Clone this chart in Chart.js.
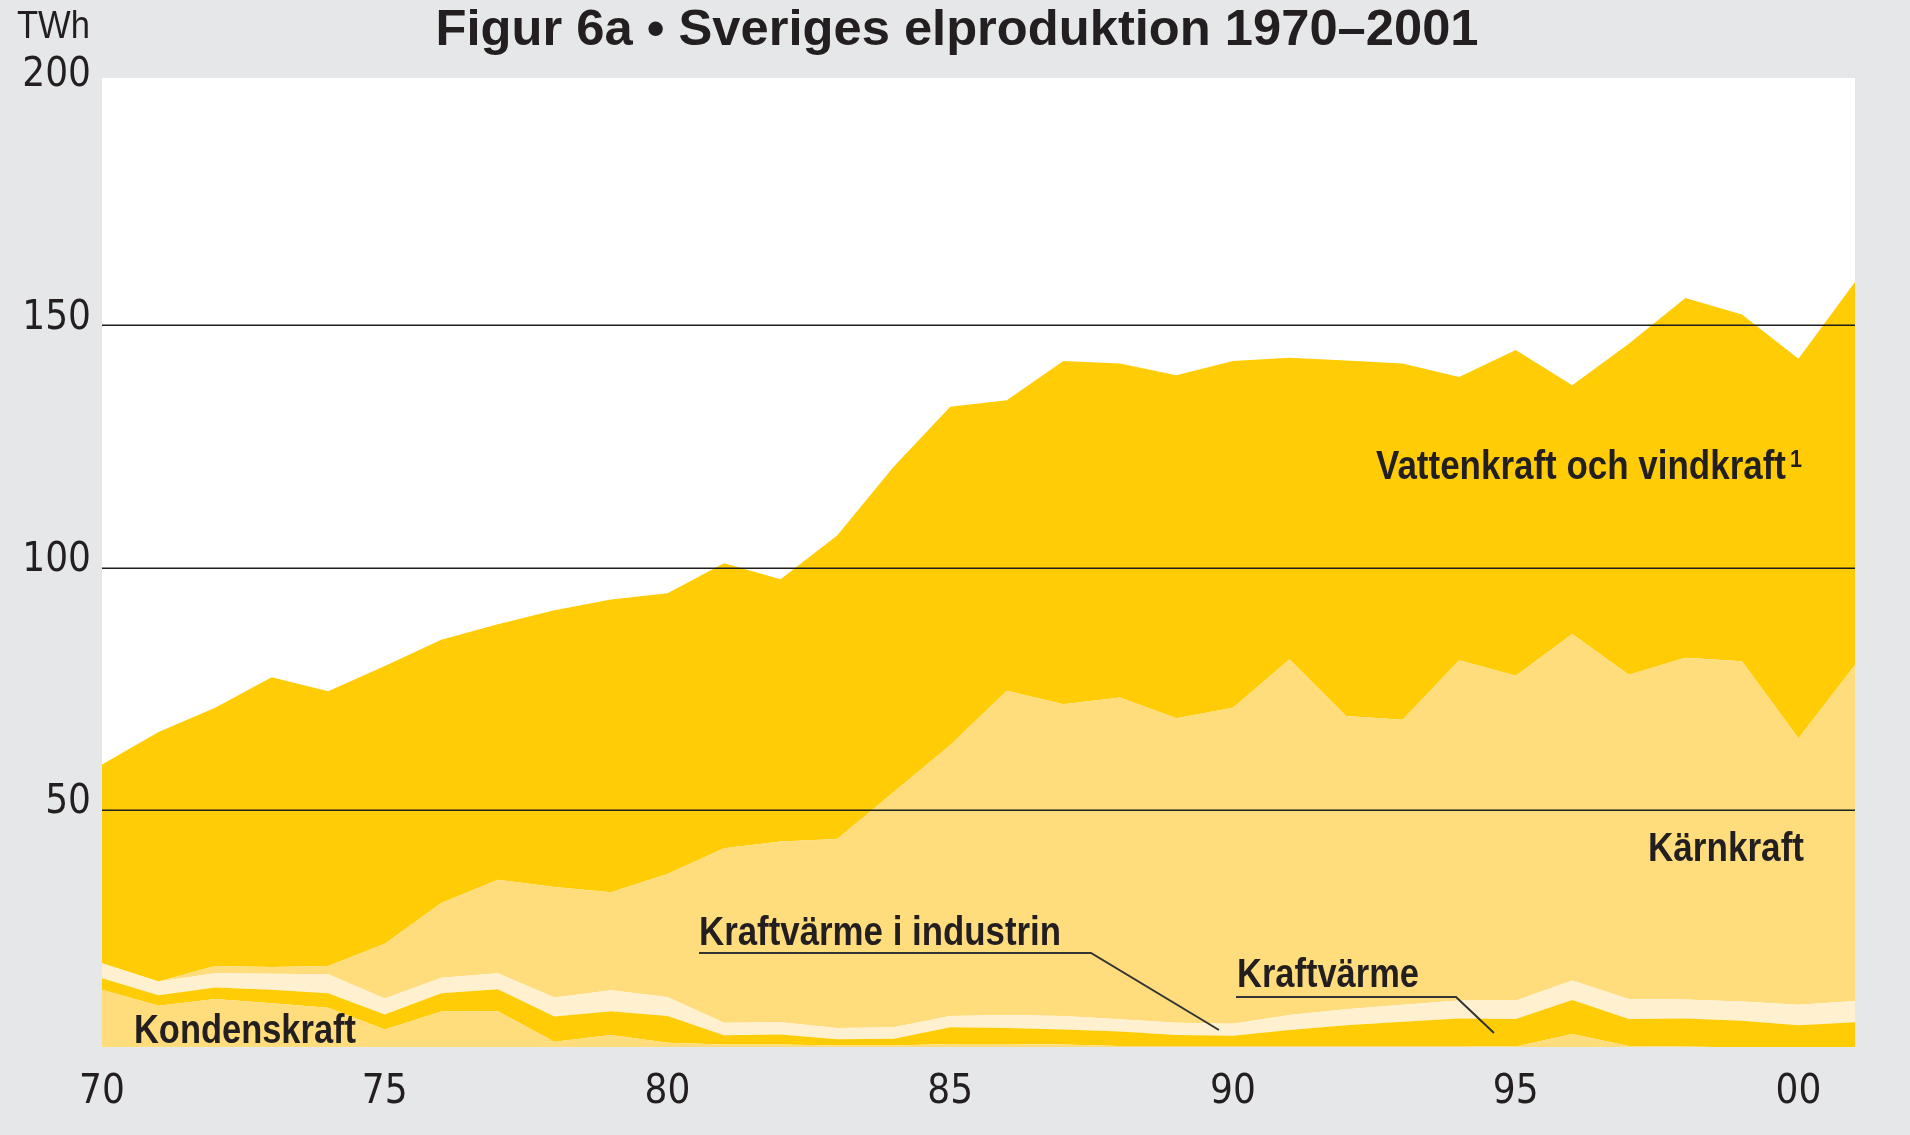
<!DOCTYPE html>
<html>
<head>
<meta charset="utf-8">
<script src="https://cdn.jsdelivr.net/npm/chart.js@4.4.1/dist/chart.umd.min.js"></script>
<style>
html, body { margin: 0; padding: 0; background: #e6e7e9; }
#chart { display: block; }
</style>
</head>
<body>
<canvas id="chart" width="1910" height="1135"></canvas>
<script>
// år 1970-2001 och produktion i TWh
const years = [1970, 1971, 1972, 1973, 1974, 1975, 1976, 1977, 1978, 1979,
               1980, 1981, 1982, 1983, 1984, 1985, 1986, 1987, 1988, 1989,
               1990, 1991, 1992, 1993, 1994, 1995, 1996, 1997, 1998, 1999,
               2000, 2001];
const kondenskraft = [12.9, 9.6, 11.0, 10.1, 9.2, 4.7, 8.4, 8.5, 2.2, 3.6,
                      2.0, 1.6, 1.6, 1.4, 1.4, 1.7, 1.7, 1.6, 1.3, 1.3,
                      1.3, 1.3, 1.3, 1.3, 1.3, 1.2, 3.8, 1.3, 1.2, 1.0,
                      1.0, 1.0];
const kraftvarme = [2.4, 2.2, 2.4, 2.8, 3.0, 3.1, 3.8, 4.5, 5.2, 4.9,
                    5.5, 1.9, 2.1, 1.3, 1.4, 3.5, 3.3, 3.1, 3.0, 2.3,
                    2.1, 3.3, 4.3, 5.0, 5.7, 5.7, 7.0, 5.6, 5.8, 5.5,
                    4.6, 5.2];
const kraftvarmeIndustri = [3.1, 2.8, 2.9, 3.3, 3.9, 3.3, 3.2, 3.3, 3.9, 4.3,
                            3.9, 2.6, 2.5, 2.3, 2.4, 2.3, 2.7, 2.8, 2.5, 2.5,
                            2.5, 3.1, 3.3, 3.5, 3.7, 3.8, 4.0, 4.1, 3.9, 4.0,
                            4.2, 4.4];
const karnkraft = [0, 0, 1.5, 1.4, 1.7, 11.3, 15.4, 19.3, 22.8, 20.2,
                   25.4, 36.0, 37.3, 39.0, 48.5, 55.9, 66.9, 64.3, 66.4, 62.8,
                   65.2, 73.4, 60.5, 58.8, 70.2, 67.0, 71.5, 66.9, 70.5, 70.2,
                   55.0, 69.3];
const vattenVind = [41.0, 51.5, 53.3, 59.8, 56.7, 57.3, 54.3, 52.7, 57.1, 60.4,
                    57.9, 58.8, 54.1, 62.6, 67.1, 69.8, 59.9, 70.8, 68.9, 70.8,
                    71.5, 62.2, 73.3, 73.5, 58.4, 67.2, 51.3, 68.3, 74.2, 71.5,
                    78.3, 79.0];
const yTicks = [50, 100, 150, 200];
const gridValues = [50, 100, 150]; // ingen linje vid 200, där slutar ytan

const DARK = '#ffcc05';
const LIGHT = '#ffdc7c';
const CREAM = '#fff0d0';
const INK = '#231f20';
const TICKFONT = '"Liberation Sans Narrow", "DejaVu Sans Condensed", "Liberation Sans", sans-serif';

// text som trycks ihop i sidled, som den smala Helvetica i originalet
function narrowText(ctx, text, x, y, font, width, align) {
	ctx.save();
	ctx.font = font;
	let k = width / ctx.measureText(text).width;
	ctx.translate(x, y);
	ctx.scale(k, 1);
	ctx.textAlign = align || 'left';
	ctx.textBaseline = 'alphabetic';
	ctx.fillStyle = INK;
	ctx.fillText(text, 0, 0);
	ctx.restore();
}

function pointer(ctx, pts, width) {
	ctx.save();
	ctx.strokeStyle = '#333';
	ctx.lineWidth = width;
	ctx.beginPath();
	ctx.moveTo(pts[0][0], pts[0][1]);
	for (let i = 1; i < pts.length; i++) ctx.lineTo(pts[i][0], pts[i][1]);
	ctx.stroke();
	ctx.restore();
}

const background = {
	id: 'background',
	beforeDraw(chart) {
		const ctx = chart.ctx, a = chart.chartArea;
		ctx.save();
		ctx.fillStyle = '#e6e7e9';
		ctx.fillRect(0, 0, chart.width, chart.height);
		ctx.fillStyle = '#ffffff';
		ctx.fillRect(a.left, a.top, a.right - a.left, a.bottom - a.top);
		ctx.restore();
	}
};

// stödlinjerna ligger ovanpå ytorna i originalet
const gridOnTop = {
	id: 'gridOnTop',
	afterDatasetsDraw(chart) {
		const ctx = chart.ctx, a = chart.chartArea, y = chart.scales.y;
		ctx.save();
		ctx.strokeStyle = '#1e1e1e';
		ctx.lineWidth = 1.5;
		gridValues.forEach(v => {
			let py = Math.round(y.getPixelForValue(v)) + 0.25;
			ctx.beginPath();
			ctx.moveTo(a.left, py);
			ctx.lineTo(a.right, py);
			ctx.stroke();
		});
		ctx.restore();
	}
};

const texts = {
	id: 'texts',
	afterDraw(chart) {
		const ctx = chart.ctx;
		narrowText(ctx, 'Figur 6a • Sveriges elproduktion 1970–2001', 957, 45, 'bold 50px "Liberation Sans"', 1043, 'center');
		narrowText(ctx, 'TWh', 17, 38, '38px "Liberation Sans"', 73, 'left');

		const bold = 'bold 40px "Liberation Sans"';
		narrowText(ctx, 'Vattenkraft och vindkraft', 1376, 479, bold, 410, 'left');
		narrowText(ctx, '1', 1790, 467, 'bold 23px "Liberation Sans"', 12, 'left');
		narrowText(ctx, 'Kärnkraft', 1648, 861, bold, 156, 'left');
		narrowText(ctx, 'Kraftvärme i industrin', 699, 945, bold, 362, 'left');
		narrowText(ctx, 'Kraftvärme', 1237, 987, bold, 182, 'left');
		narrowText(ctx, 'Kondenskraft', 134, 1043, bold, 222, 'left');

		pointer(ctx, [[699, 953], [1091, 953], [1219, 1030]], 2);
		pointer(ctx, [[1236, 997], [1456, 997], [1494, 1033]], 2);
	}
};

function area(label, data, color, fill) {
	return {
		label: label,
		data: data,
		backgroundColor: color,
		borderWidth: 0,
		pointRadius: 0,
		tension: 0,
		fill: fill
	};
}

new Chart(document.getElementById('chart'), {
	type: 'line',
	data: {
		labels: years,
		datasets: [
			area('Kondenskraft', kondenskraft, LIGHT, 'origin'),
			area('Kraftvärme', kraftvarme, DARK, '-1'),
			area('Kraftvärme i industrin', kraftvarmeIndustri, CREAM, '-1'),
			area('Kärnkraft', karnkraft, LIGHT, '-1'),
			area('Vattenkraft och vindkraft', vattenVind, DARK, '-1')
		]
	},
	options: {
		responsive: false,
		devicePixelRatio: 1,
		animation: false,
		layout: { padding: { top: 78, right: 55, left: 0, bottom: 0 } },
		plugins: {
			legend: { display: false },
			tooltip: { enabled: false },
			title: { display: false }
		},
		scales: {
			x: {
				type: 'category',
				offset: false,
				grid: { display: false, drawTicks: false },
				border: { display: false },
				ticks: {
					autoSkip: false,
					maxRotation: 0,
					padding: 22,
					color: INK,
					font: { family: TICKFONT, size: 40 },
					callback: function (val, i) {
						let y = years[i];
						return y % 5 === 0 ? String(y).slice(2) : '';
					}
				},
				afterFit: s => { s.height = 88; }
			},
			y: {
				stacked: true,
				min: 1.1,
				max: 201,
				afterBuildTicks: s => { s.ticks = yTicks.map(v => ({ value: v })); },
				afterFit: s => { s.width = 102; },
				grid: { display: false, drawTicks: false },
				border: { display: false },
				ticks: {
					padding: 11,
					labelOffset: -7,
					color: INK,
					font: { family: TICKFONT, size: 40 }
				}
			}
		}
	},
	plugins: [background, gridOnTop, texts]
});
</script>
</body>
</html>
